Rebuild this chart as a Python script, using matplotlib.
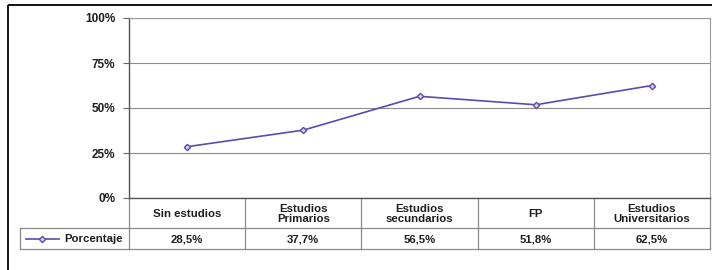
import matplotlib
matplotlib.use('Agg')
import matplotlib.pyplot as plt
from matplotlib.lines import Line2D
from matplotlib.patches import Rectangle

categories = ['Sin estudios', 'Estudios\nPrimarios', 'Estudios\nsecundarios', 'FP', 'Estudios\nUniversitarios']
values = [28.5, 37.7, 56.5, 51.8, 62.5]
value_labels = ['28,5%', '37,7%', '56,5%', '51,8%', '62,5%']
series_name = 'Porcentaje'
yticks = [0, 25, 50, 75, 100]
ytick_labels = ['0%', '25%', '50%', '75%', '100%']

W, H = 712, 270
line_col = '#6048b0'
grid_col = '#8c8c8c'
txt_col = '#1e1e1e'
plt.rcParams['font.family'] = ['Liberation Sans', 'DejaVu Sans']

fig = plt.figure(figsize=(W / 100, H / 100), dpi=100)

# pixel-space overlay for frame and data table
pix = fig.add_axes([0, 0, 1, 1])
pix.set_xlim(0, W)
pix.set_ylim(H, 0)
pix.axis('off')

# plot area (pixels)
x0, x1 = 129, 710
y_top, y_base = 18, 198
ax = fig.add_axes([x0 / W, 1 - y_base / H, (x1 - x0) / W, (y_base - y_top) / H])
n = len(categories)
ax.plot(range(n), values, color=line_col, lw=1.2, marker='D', ms=3.2,
        mfc='#d8d0f0', mec=line_col, mew=1.0, zorder=3)
ax.set_xlim(-0.5, n - 0.5)
ax.set_ylim(0, 100)
ax.set_yticks(yticks)
ax.set_yticklabels(ytick_labels, fontsize=8.5, fontweight='bold', color=txt_col)
ax.tick_params(axis='y', length=4, width=0.8, color='#666666', pad=6)
ax.set_xticks([])
ax.grid(axis='y', color=grid_col, lw=0.8)
for s in ['top', 'right']:
    ax.spines[s].set_color('#9a9a9a')
    ax.spines[s].set_linewidth(0.8)
for s in ['left', 'bottom']:
    ax.spines[s].set_color('#555555')
    ax.spines[s].set_linewidth(1.0)

# outer border
pix.add_patch(Rectangle((8, 5), W + 10, H + 10, fill=False, ec='black', lw=1.3))

# data table
row1_bot, row2_bot = 228, 249
legend_left = 20
col_w = (x1 - x0) / n
tc = '#8a8a8a'
pix.add_line(Line2D([x0, x0], [y_base, row2_bot], color=tc, lw=0.9))
pix.add_line(Line2D([x1, x1], [y_base, row2_bot], color=tc, lw=0.9))
for i in range(1, n):
    xx = x0 + i * col_w
    pix.add_line(Line2D([xx, xx], [y_base, row2_bot], color=tc, lw=0.9))
pix.add_line(Line2D([legend_left, x1], [row1_bot, row1_bot], color=tc, lw=0.9))
pix.add_line(Line2D([legend_left, x1], [row2_bot, row2_bot], color=tc, lw=0.9))
pix.add_line(Line2D([legend_left, legend_left], [row1_bot, row2_bot], color=tc, lw=0.9))

for i in range(n):
    cx = x0 + (i + 0.5) * col_w
    pix.text(cx, (y_base + row1_bot) / 2 + 1, categories[i], ha='center', va='center',
             fontsize=8.2, fontweight='bold', color=txt_col, linespacing=0.95)
    pix.text(cx, (row1_bot + row2_bot) / 2 + 1, value_labels[i], ha='center', va='center',
             fontsize=8.2, fontweight='bold', color=txt_col)

# legend key inside table
ly = (row1_bot + row2_bot) / 2
pix.add_line(Line2D([26, 59], [ly, ly], color=line_col, lw=1.2))
pix.plot([42], [ly], marker='D', ms=3.2, mfc='#d8d0f0', mec=line_col, mew=1.0)
pix.text(64, ly + 1, series_name, ha='left', va='center', fontsize=8.2,
         fontweight='bold', color=txt_col)

fig.savefig('out.png', dpi=100)
